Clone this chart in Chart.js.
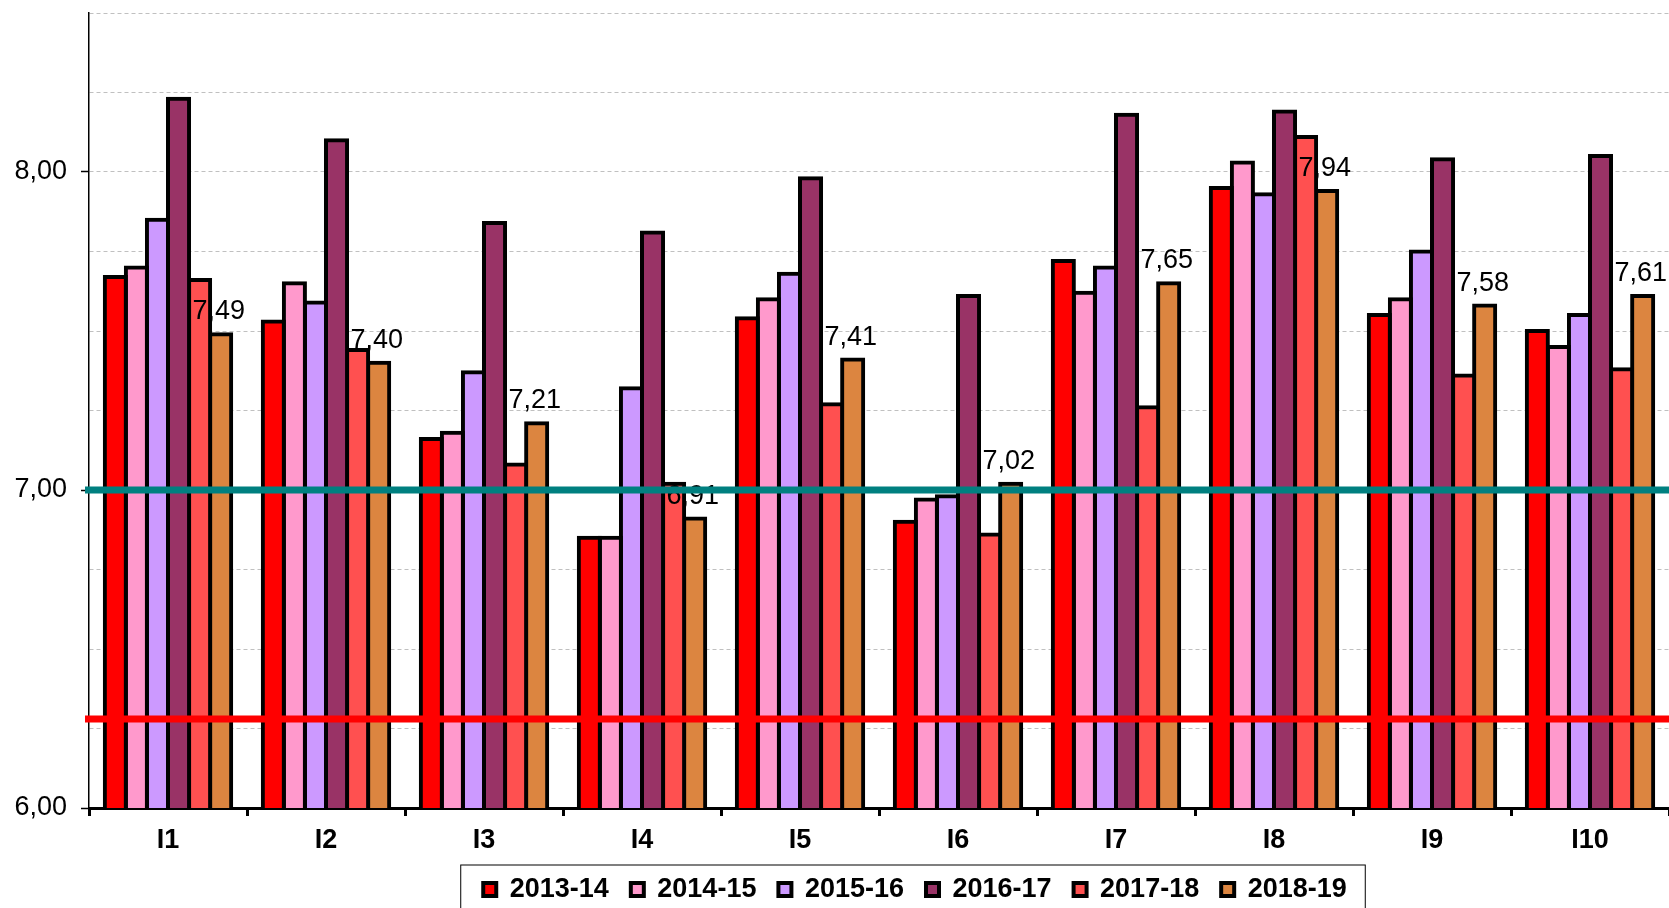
<!DOCTYPE html>
<html>
<head>
<meta charset="utf-8">
<script src="https://cdn.jsdelivr.net/npm/chart.js@4/dist/chart.umd.min.js"></script>
<style>
  html, body { margin: 0; padding: 0; background: #fff; overflow: hidden; }
  #wrap { width: 1669px; height: 908px; }
</style>
</head>
<body>
<div id="wrap"><canvas id="chart" width="1669" height="908"></canvas></div>
<script>
  const categories = ["I1", "I2", "I3", "I4", "I5", "I6", "I7", "I8", "I9", "I10"];
  const seasons = ["2013-14", "2014-15", "2015-16", "2016-17", "2017-18", "2018-19"];

  const values2013 = [7.67, 7.53, 7.16, 6.85, 7.54, 6.90, 7.72, 7.95, 7.55, 7.50];
  const values2014 = [7.70, 7.65, 7.18, 6.85, 7.60, 6.97, 7.62, 8.03, 7.60, 7.45];
  const values2015 = [7.85, 7.59, 7.37, 7.32, 7.68, 6.98, 7.70, 7.93, 7.75, 7.55];
  const values2016 = [8.23, 8.10, 7.84, 7.81, 7.98, 7.61, 8.18, 8.19, 8.04, 8.05];
  const values2017 = [7.66, 7.44, 7.08, 7.02, 7.27, 6.86, 7.26, 8.11, 7.36, 7.38];
  const values2018 = [7.49, 7.40, 7.21, 6.91, 7.41, 7.02, 7.65, 7.94, 7.58, 7.61];

  const seasonColors = ["#ff0000", "#ff99cc", "#cc99ff", "#993366", "#ff5050", "#dc8540"];

  const yMin = 6;
  const yMax = 8.5;
  const yStep = 0.25;
  const targetLine = 7.0;
  const minimumLine = 6.28;
  const labelledSeason = "2018-19";

  const FONT = "'Liberation Sans', Arial, sans-serif";
  const LEGEND_CENTER_X = 915;

  const seriesValues = [values2013, values2014, values2015, values2016, values2017, values2018];

  function formatComma(value) {
    return value.toFixed(2).replace(".", ",");
  }

  const overlayPlugin = {
    id: "overlay",
    afterUpdate(chart) {
      // the legend in the original sits right of centre
      const legend = chart.legend;
      if (!legend || !legend.legendHitBoxes.length) {
        return;
      }
      const boxes = legend.legendHitBoxes;
      const first = boxes[0];
      const last = boxes[boxes.length - 1];
      const shift = LEGEND_CENTER_X - (first.left + last.left + last.width) / 2;
      legend.left += shift;
      legend.right += shift;
      boxes.forEach((box) => {
        box.left += shift;
      });
    },
    afterDatasetsDraw(chart) {
      const { ctx, chartArea, scales } = chart;
      const index = chart.data.datasets.findIndex((d) => d.label === labelledSeason);
      const meta = chart.getDatasetMeta(index);

      ctx.save();
      ctx.font = `27px ${FONT}`;
      ctx.fillStyle = "#000";
      ctx.textAlign = "center";
      ctx.textBaseline = "alphabetic";
      meta.data.forEach((bar, i) => {
        ctx.fillText(formatComma(chart.data.datasets[index].data[i]), bar.x - 2, bar.y - 15);
      });
      ctx.restore();

      [[targetLine, "#008080"], [minimumLine, "#ff0000"]].forEach(([value, color]) => {
        const py = scales.y.getPixelForValue(value);
        ctx.save();
        ctx.strokeStyle = color;
        ctx.lineWidth = 7;
        ctx.beginPath();
        ctx.moveTo(chartArea.left - 4, py);
        ctx.lineTo(chartArea.right, py);
        ctx.stroke();
        ctx.restore();
      });
    },
    afterDraw(chart) {
      const boxes = chart.legend && chart.legend.legendHitBoxes;
      if (!boxes || !boxes.length) {
        return;
      }
      const first = boxes[0];
      const last = boxes[boxes.length - 1];
      const ctx = chart.ctx;
      ctx.save();
      ctx.strokeStyle = "#000";
      ctx.lineWidth = 1;
      ctx.strokeRect(first.left - 22.5, first.top + first.height / 2 - 24.5, last.left + last.width - first.left + 41, 80);
      ctx.restore();
    },
  };

  new Chart(document.getElementById("chart"), {
    type: "bar",
    data: {
      labels: categories,
      datasets: seasons.map((season, i) => ({
        label: season,
        data: seriesValues[i],
        backgroundColor: seasonColors[i],
        borderColor: "#000",
        borderWidth: 4,
        borderSkipped: "bottom",
        inflateAmount: 2,
        categoryPercentage: 0.8,
        barPercentage: 1.0,
      })),
    },
    options: {
      responsive: false,
      animation: false,
      devicePixelRatio: 1,
      layout: { padding: { left: 14, right: 0, top: 13, bottom: -5 } },
      plugins: {
        tooltip: { enabled: false },
        title: { display: false },
        legend: {
          position: "bottom",
          labels: {
            font: { family: FONT, size: 27, weight: "bold" },
            color: "#000",
            boxWidth: 13,
            boxHeight: 13,
            padding: 22,
          },
        },
      },
      scales: {
        x: {
          afterFit(scale) {
            scale.height = 46;
            scale.paddingLeft = 0;
            scale.paddingRight = 0;
          },
          grid: {
            offset: true,
            drawOnChartArea: false,
            drawTicks: true,
            tickLength: 8,
            tickWidth: 3,
            tickColor: "#000",
          },
          border: { display: true, color: "#000", width: 3 },
          ticks: {
            font: { family: FONT, size: 27, weight: "bold" },
            color: "#000",
            padding: 8,
          },
        },
        y: {
          min: yMin,
          max: yMax,
          afterFit(scale) {
            scale.width = 75;
            scale.paddingTop = 0;
            scale.paddingBottom = 0;
          },
          ticks: {
            stepSize: yStep,
            font: { family: FONT, size: 27 },
            color: "#000",
            padding: 14,
            callback(value) {
              return Number.isInteger(value) ? formatComma(value) : "";
            },
          },
          grid: {
            color(context) {
              return context.tick && context.tick.value === yMin ? "rgba(0,0,0,0)" : "#c0c0c0";
            },
            tickColor(context) {
              return context.tick && Number.isInteger(context.tick.value) ? "#000" : "rgba(0,0,0,0)";
            },
            lineWidth: 1,
            tickLength: 8,
            tickWidth: 1.5,
          },
          border: { display: true, color: "#000", width: 1.5, dash: [4, 3] },
        },
      },
    },
    plugins: [overlayPlugin],
  });
</script>
</body>
</html>
